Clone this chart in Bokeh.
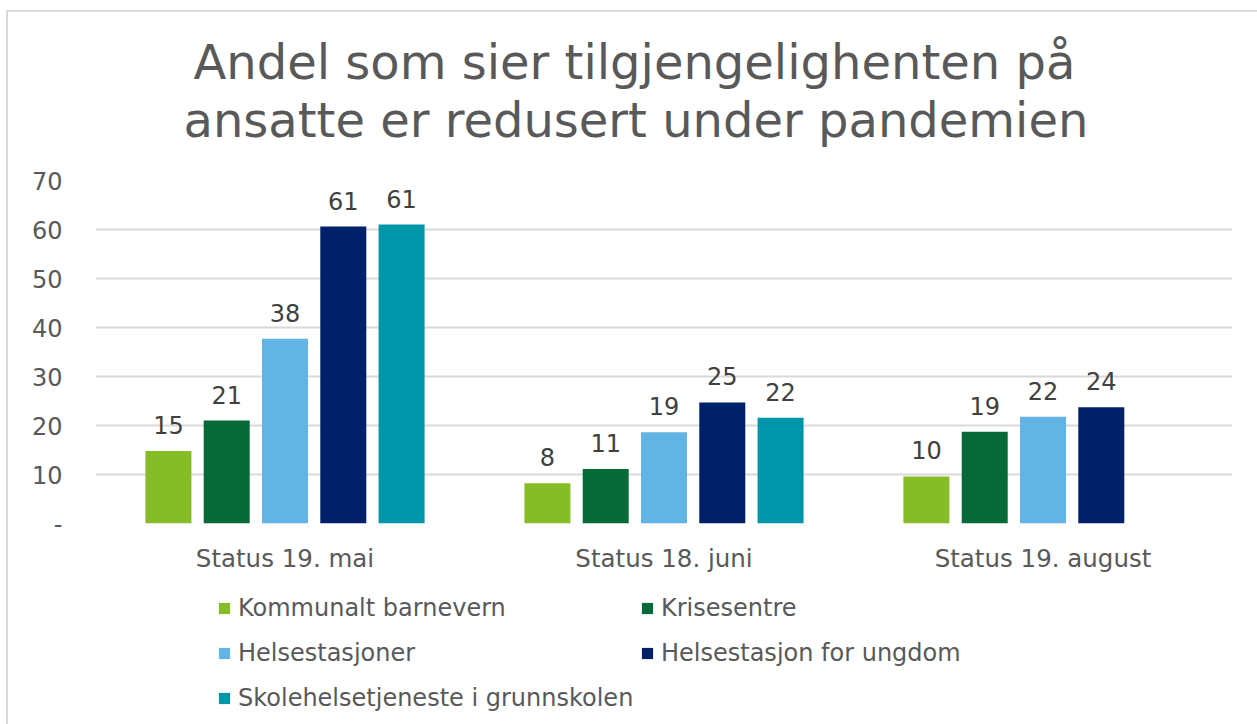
from bokeh.plotting import figure
from bokeh.layouts import column
from bokeh.models import (ColumnDataSource, FactorRange, Range1d, Legend, LegendItem,
                          FixedTicker, Label, InlineStyleSheet)
from bokeh.transform import dodge
from bokeh.core.properties import value
from bokeh.embed import file_html
from bokeh.resources import INLINE

title_lines = ["Andel som sier tilgjengelighenten på", "ansatte er redusert under pandemien"]
categories = ["Status 19. mai", "Status 18. juni", "Status 19. august"]
series_names = ["Kommunalt barnevern", "Krisesentre", "Helsestasjoner",
                "Helsestasjon for ungdom", "Skolehelsetjeneste i grunnskolen"]
kommunalt_barnevern = [14.8, 8.2, 9.6]
krisesentre = [21.0, 11.1, 18.7]
helsestasjoner = [37.7, 18.6, 21.8]
helsestasjon_ungdom = [60.6, 24.7, 23.7]
skolehelsetjeneste = [61.0, 21.6, None]
colors = ["#86BC25", "#066A38", "#62B4E4", "#00216A", "#0096A9"]
y_ticks = [0, 10, 20, 30, 40, 50, 60, 70]

series_values = [kommunalt_barnevern, krisesentre, helsestasjoner,
                 helsestasjon_ungdom, skolehelsetjeneste]

FONT = "DejaVu Sans"
TEXT = "#595959"

def blank_figure(h):
    f = figure(width=1257, height=h, output_backend="svg", toolbar_location=None,
               x_axis_type=None, y_axis_type=None, min_border=0,
               x_range=Range1d(0, 1), y_range=Range1d(0, 1))
    f.outline_line_color = None
    f.xgrid.grid_line_color = None
    f.ygrid.grid_line_color = None
    return f

# title panel
t = blank_figure(165)
for txt, xx, yy in zip(title_lines, [98, 88], [104, 46]):
    t.add_layout(Label(x=xx, y=yy, x_units="screen", y_units="screen", text=txt,
                       text_align="left", text_baseline="alphabetic", text_font=FONT,
                       text_font_size="48px", text_color=TEXT))

# chart
p = figure(x_range=FactorRange(*categories, range_padding=0), y_range=Range1d(0, 70),
           width=1257, height=415, output_backend="svg", toolbar_location=None,
           min_border_left=95, min_border_right=25, min_border_top=15, min_border_bottom=57)
p.outline_line_color = None
p.xgrid.grid_line_color = None
p.ygrid.grid_line_color = "#d9d9d9"
p.ygrid.grid_line_width = 2
p.yaxis.ticker = FixedTicker(ticks=y_ticks)
p.yaxis.major_label_overrides = {0: "-"}
for ax in (p.xaxis[0], p.yaxis[0]):
    ax.axis_line_color = None
    ax.major_tick_line_color = None
    ax.minor_tick_line_color = None
    ax.major_tick_out = 0
    ax.major_tick_in = 0
    ax.major_label_text_font = FONT
    ax.major_label_text_color = TEXT
    ax.major_label_text_font_size = "24.5px"
p.yaxis.major_label_text_font_size = "24px"
p.yaxis.major_label_standoff = 33
p.xaxis.major_label_standoff = 20

step = 0.1538
bw = 0.1214
for i, (name, vals, col) in enumerate(zip(series_names, series_values, colors)):
    xs = [c for c, v in zip(categories, vals) if v is not None]
    ys = [v for v in vals if v is not None]
    src = ColumnDataSource(dict(x=xs, y=ys, lab=[str(int(round(v))) for v in ys]))
    off = (i - 2) * step
    p.vbar(x=dodge("x", off, range=p.x_range), top="y", width=bw, source=src,
           fill_color=col, line_color=None)
    p.text(x=dodge("x", off, range=p.x_range), y="y", text="lab", source=src,
           text_align="center", text_baseline="alphabetic", y_offset=-26,
           text_font=value(FONT), text_font_size="24px", text_color="#404040")

# legend panel (frame aligned with the chart's frame by the column layout)
q = blank_figure(144)
legend_renderers = [q.vbar(x=[0.5], top=[0], width=0, fill_color=c, line_color=None)
                    for c in colors]

def make_legend(idx, loc):
    lg = Legend(items=[LegendItem(label=series_names[i], renderers=[legend_renderers[i]])
                       for i in idx],
                location=loc, orientation="vertical", glyph_width=14, glyph_height=14,
                label_standoff=7, label_text_font=FONT, label_text_font_size="24px",
                label_text_color=TEXT, label_height=28, spacing=17, padding=0, margin=0,
                border_line_color=None, background_fill_alpha=0)
    q.add_layout(lg, "center")

make_legend([0, 2, 4], (122, 12))
make_legend([1, 3], (545, 57))

border_css = InlineStyleSheet(css=""":host { position: relative; }
:host::after { content: ""; position: absolute; left: 6px; top: 10px; right: 0; bottom: 0;
  border-left: 2px solid #d9d9d9; border-top: 2px solid #d9d9d9; pointer-events: none; }""")
layout = column(t, p, q, spacing=0, stylesheets=[border_css])
open("out.html", "w").write(file_html(layout, INLINE))
